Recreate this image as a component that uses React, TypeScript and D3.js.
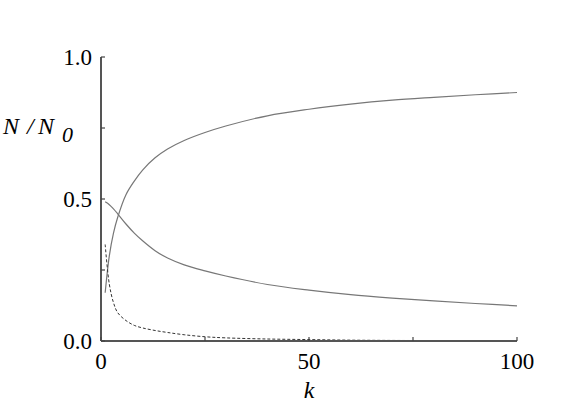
import React from 'react';
import * as d3 from 'd3';

const ks = [1, 2, 3, 4, 6, 8, 10, 13, 16, 20, 25, 30, 40, 50, 60, 70, 80, 90, 100];
const rising = [0.17, 0.3, 0.38, 0.435, 0.515, 0.563, 0.602, 0.645, 0.676, 0.706, 0.734, 0.757, 0.793, 0.816, 0.834, 0.848, 0.858, 0.867, 0.875];
const falling = [0.49, 0.48, 0.465, 0.448, 0.412, 0.38, 0.353, 0.318, 0.292, 0.268, 0.247, 0.229, 0.199, 0.179, 0.163, 0.151, 0.141, 0.132, 0.124];
const dashed = [0.34, 0.2, 0.135, 0.1, 0.072, 0.055, 0.046, 0.037, 0.03, 0.022, 0.015, 0.011, 0.007, 0.005, 0.003, 0.002, 0.0015, 0.001, 0.001];

const xTicks = [0, 25, 50, 75, 100];
const xLabels = [0, 50, 100];
const yTicks = [0, 0.25, 0.5, 0.75, 1];
const yLabels = [0, 0.5, 1];

export default function App() {
  const x = d3.scaleLinear().domain([0, 100]).range([101, 517]);
  const y = d3.scaleLinear().domain([0, 1]).range([341, 57]);

  const line = d3.line<number>()
    .x((_, i) => x(ks[i]))
    .y(d => y(d))
    .curve(d3.curveCatmullRom.alpha(0.5));

  const font = 'Liberation Serif, Tinos, Times New Roman, Times, serif';

  return (
    <svg width={571} height={409} style={{ position: 'absolute', left: 0, top: 0 }}>
      <rect width={571} height={409} fill="#fff" />
      <path d={line(rising) || ''} fill="none" stroke="#777" strokeWidth={1.2} />
      <path d={line(falling) || ''} fill="none" stroke="#777" strokeWidth={1.2} />
      <path d={line(dashed) || ''} fill="none" stroke="#333" strokeWidth={1} strokeDasharray="3,2" />

      {/* axes */}
      <line x1={x(0)} x2={x(0)} y1={y(1)} y2={y(0)} stroke="#555" strokeWidth={2} />
      <line x1={x(0)} x2={x(100)} y1={y(0)} y2={y(0)} stroke="#555" strokeWidth={2} />
      {yTicks.map(t => (
        <line key={'yt' + t} x1={x(0)} x2={x(0) + 4} y1={y(t)} y2={y(t)} stroke="#444" strokeWidth={1.2} />
      ))}
      {xTicks.map(t => (
        <line key={'xt' + t} x1={x(t)} x2={x(t)} y1={y(0)} y2={y(0) - 4} stroke="#444" strokeWidth={1.2} />
      ))}

      {yLabels.map(t => (
        <text key={'yl' + t} x={92} y={y(t) + 8} textAnchor="end" style={{ fontFamily: font }} fontSize={23} fill="#000">
          {d3.format('.1f')(t)}
        </text>
      ))}
      {xLabels.map(t => (
        <text key={'xl' + t} x={x(t)} y={369} textAnchor="middle" style={{ fontFamily: font }} fontSize={23} fill="#000">
          {t}
        </text>
      ))}

      <text x={x(50)} y={398} textAnchor="middle" style={{ fontFamily: font }} fontSize={24} fontStyle="italic">k</text>
      <text y={134} style={{ fontFamily: font }} fontSize={24} fontStyle="italic">
        <tspan x={3}>N</tspan>
        <tspan x={27}>/</tspan>
        <tspan x={38}>N</tspan>
        <tspan x={62} dy={8} fontSize={22}>0</tspan>
      </text>
    </svg>
  );
}
